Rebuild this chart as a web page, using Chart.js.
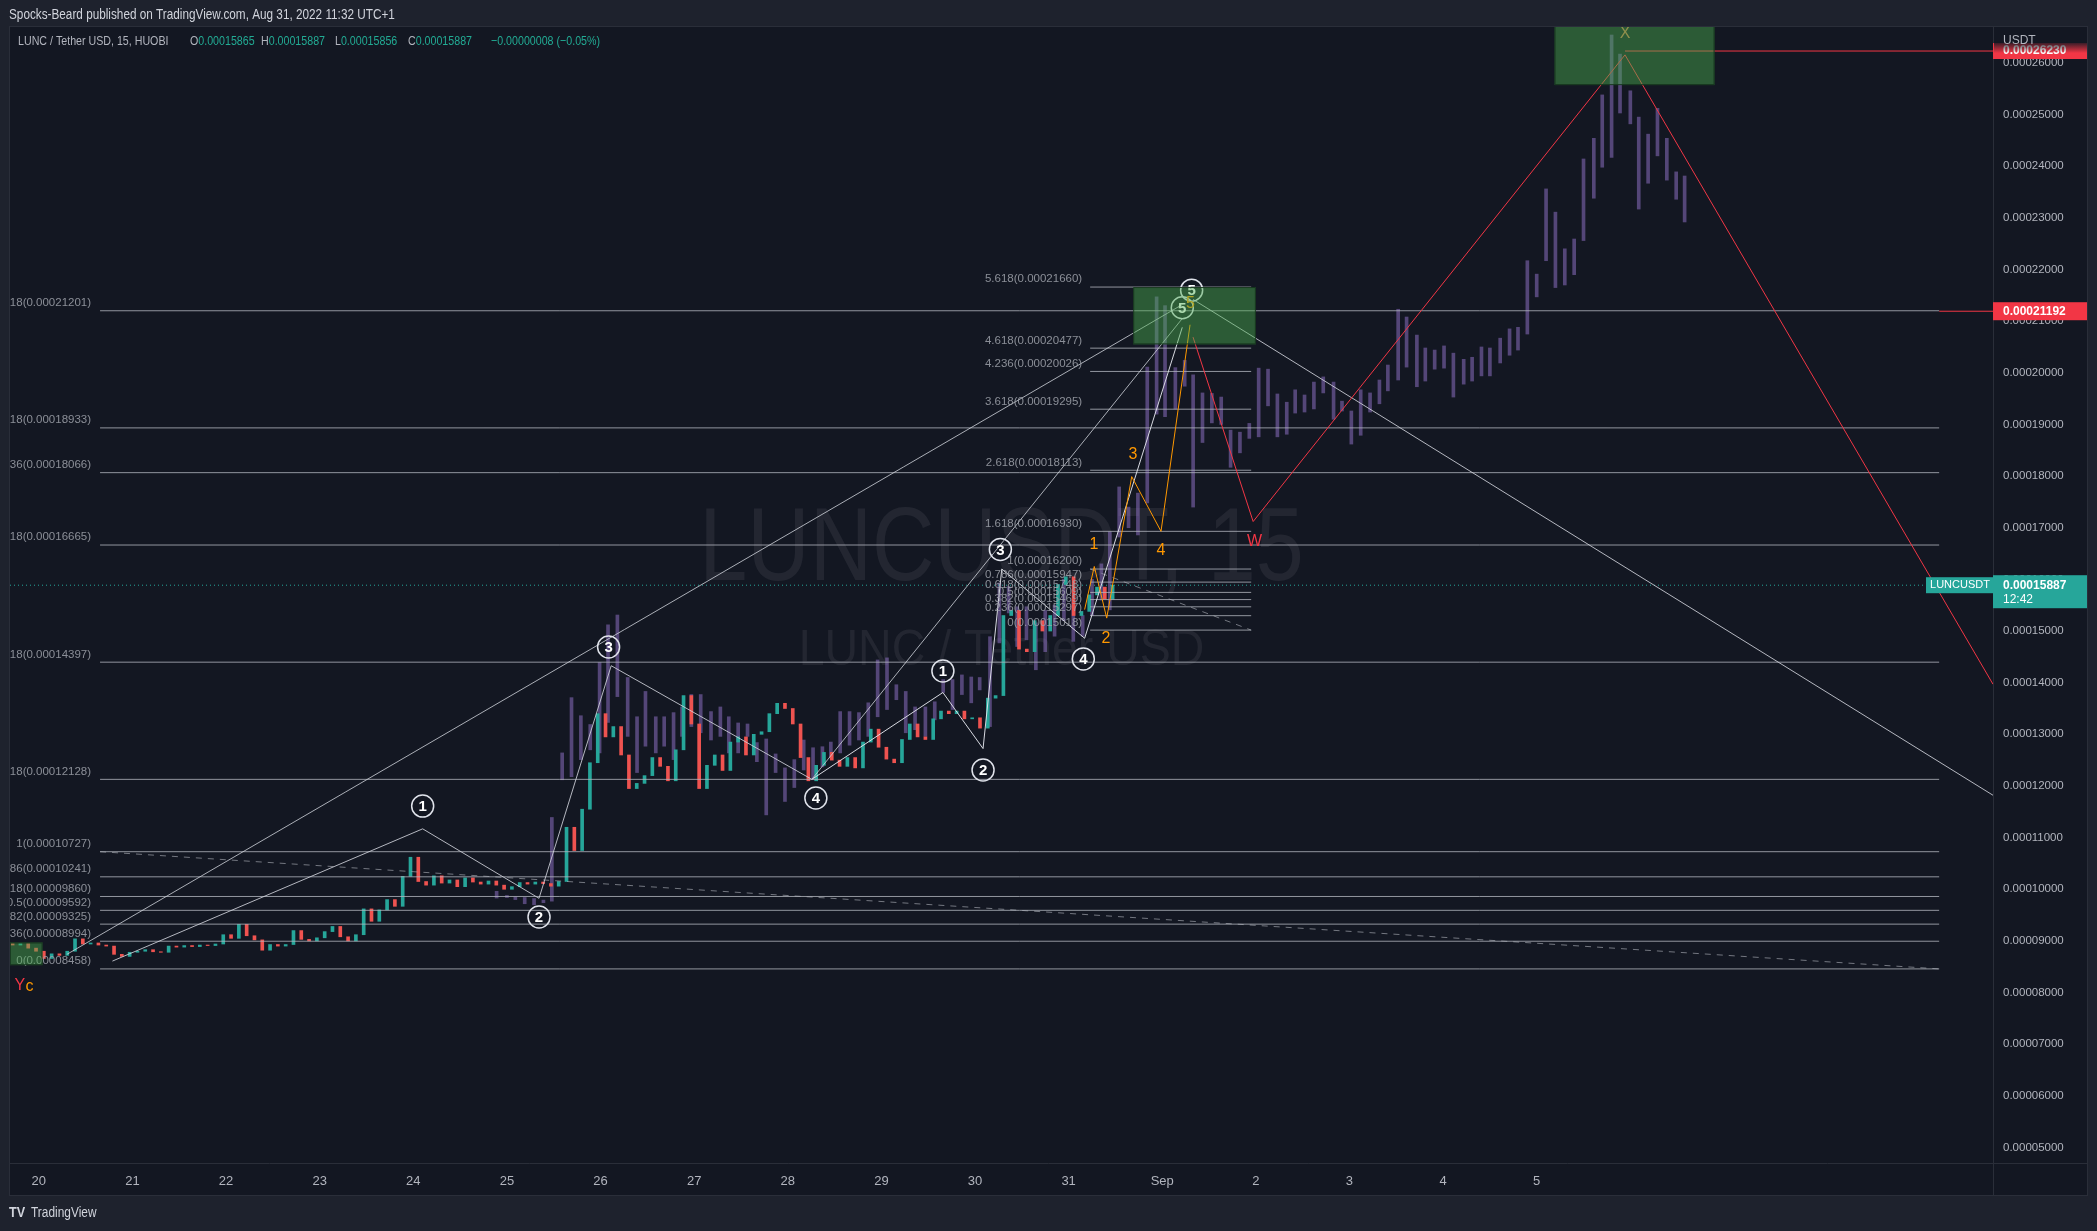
<!DOCTYPE html>
<html>
<head>
<meta charset="utf-8">
<script src="https://cdn.jsdelivr.net/npm/chart.js@4.4.1/dist/chart.umd.min.js"></script>
<style>
  html, body { margin: 0; padding: 0; background: #1e222d; overflow: hidden; }
  canvas { display: block; }
</style>
</head>
<body>
<canvas id="chart" width="2097" height="1231"></canvas>
<script>
// Prices are kept in units of 0.00001 USDT, time in days (20 = Aug 20, 32 = Sep 1)
var candleStart = 19.72;   // first 2h candle
var candleStep = 1 / 12;
var openFirst = 8.95;
var closeE5 = [
  8.92, 8.95, 8.86, 8.80, 8.66, 8.75, 8.72, 8.80, 9.04, 8.94, 8.96, 8.92,
  8.90, 8.74, 8.70, 8.78, 8.80, 8.83, 8.79, 8.78, 8.90, 8.88, 8.91, 8.89,
  8.92, 8.91, 8.94, 9.12, 9.05, 9.32, 9.10, 9.02, 8.82, 8.93, 8.90, 8.93,
  9.20, 9.03, 9.00, 9.06, 9.18, 9.28, 9.08, 9.00, 9.12, 9.62, 9.38, 9.60,
  9.80, 9.67, 10.25, 10.62, 10.15, 10.08, 10.26, 10.12, 10.18, 10.05, 10.22, 10.14,
  10.10, 10.16, 10.08, 10.00, 10.05, 10.13, 10.10, 10.14, 10.11, 10.06, 10.15, 11.20,
  10.75, 11.55, 12.45, 13.40, 12.95, 13.15, 12.60, 11.95, 12.05, 12.20, 12.55, 12.38,
  12.10, 12.70, 13.75, 13.20, 11.95, 12.40, 12.60, 12.30, 12.85, 12.95, 12.60, 13.00,
  13.05, 13.40, 13.60, 13.50, 13.20, 12.55, 12.10, 12.40, 12.65, 12.50, 12.38, 12.55,
  12.35, 12.85, 13.10, 12.75, 12.52, 12.45, 12.90, 13.20, 12.95, 12.90, 13.30, 13.45,
  13.40, 13.45, 13.30, 13.32, 13.12, 13.70, 13.75, 15.30, 15.40, 14.65, 14.60, 15.20,
  15.00, 15.30, 15.90, 16.05, 15.30, 15.38, 15.70, 15.85, 15.62, 15.887
];

// purple projected bars (bars pattern)
var ghostDay = [
  24.89, 25.00, 25.09, 25.19, 25.29, 25.39, 25.48, 25.59, 25.69, 25.79, 25.89, 25.99,
  26.08, 26.18, 26.29, 26.39, 26.48, 26.59, 26.68, 26.78, 26.87, 26.97, 27.07, 27.18,
  27.28, 27.37, 27.47, 27.57, 27.67, 27.77, 27.87, 27.97, 28.07, 28.17, 28.27, 28.37,
  28.46, 28.56, 28.66, 28.76, 28.86, 28.96, 29.06, 29.16, 29.26, 29.36, 29.47, 29.57,
  29.66, 29.76, 29.86, 29.96, 30.05, 30.16, 30.26, 30.36, 30.45, 30.55, 30.65, 30.75,
  30.85, 30.95, 31.05, 31.15, 31.25, 31.35, 31.44, 31.54, 31.64, 31.74, 31.84, 31.94,
  32.03, 32.14, 32.24, 32.33, 32.43, 32.53, 32.63, 32.73, 32.83, 32.93, 33.03, 33.13,
  33.23, 33.33, 33.42, 33.52, 33.62, 33.72, 33.83, 33.92, 34.02, 34.12, 34.22, 34.32,
  34.41, 34.52, 34.61, 34.72, 34.81, 34.91, 35.01, 35.11, 35.22, 35.31, 35.41, 35.50,
  35.61, 35.71, 35.80, 35.90, 36.00, 36.10, 36.20, 36.30, 36.40, 36.50, 36.61, 36.70,
  36.80, 36.89, 37.00, 37.09, 37.19, 37.29, 37.39, 37.49, 37.58
];
var ghostHigh = [
  9.96, 9.88, 9.85, 9.84, 9.82, 9.79, 11.39, 12.64, 13.71, 13.36, 13.19, 14.39,
  15.12, 15.31, 14.10, 13.34, 13.83, 13.34, 13.34, 13.42, 13.53, 13.77, 13.77, 13.44,
  13.53, 13.34, 13.22, 13.20, 12.84, 12.91, 12.62, 12.35, 12.51, 12.89, 12.74, 12.76,
  12.85, 13.44, 13.44, 13.42, 13.61, 14.44, 14.48, 13.96, 13.83, 13.53, 13.53, 13.63,
  14.06, 14.06, 14.15, 14.11, 14.10, 14.89, 15.93, 15.86, 15.47, 15.47, 15.16, 15.40,
  15.50, 16.00, 15.60, 15.30, 16.00, 16.30, 16.92, 17.79, 17.40, 17.67, 20.11, 21.47,
  21.30, 20.10, 20.24, 19.96, 19.61, 19.60, 19.53, 18.89, 18.85, 19.02, 20.09, 20.07,
  19.59, 19.43, 19.67, 19.57, 19.82, 19.92, 19.82, 19.45, 19.26, 19.67, 19.61, 19.86,
  20.15, 21.23, 21.08, 20.73, 20.48, 20.44, 20.52, 20.38, 20.26, 20.30, 20.50, 20.48,
  20.67, 20.85, 20.88, 22.17, 21.91, 23.56, 23.11, 22.40, 22.59, 24.14, 24.54, 25.38,
  26.54, 26.17, 25.46, 24.95, 24.62, 25.12, 24.54, 23.89, 23.81
];
var ghostLow = [
  9.83, 9.84, 9.80, 9.72, 9.70, 9.74, 9.77, 12.12, 12.18, 12.51, 12.70, 12.64,
  13.23, 13.73, 12.96, 12.26, 12.77, 12.64, 12.77, 12.51, 12.96, 13.15, 13.03, 12.89,
  12.96, 12.64, 12.64, 12.96, 12.47, 11.44, 12.26, 11.70, 11.97, 12.31, 12.12, 12.37,
  12.55, 12.64, 12.79, 12.89, 12.96, 13.34, 13.48, 13.67, 13.03, 13.09, 12.96, 13.28,
  13.81, 13.48, 13.77, 13.61, 13.86, 13.15, 14.77, 15.35, 14.70, 14.83, 14.25, 14.60,
  14.90, 15.20, 14.80, 14.90, 15.30, 15.60, 15.41, 16.82, 17.00, 16.86, 17.48, 19.20,
  19.15, 19.30, 19.74, 17.40, 18.65, 19.03, 19.00, 18.17, 18.45, 18.73, 18.76, 19.36,
  18.76, 18.81, 19.22, 19.24, 19.30, 19.61, 19.10, 19.26, 18.62, 18.79, 19.24, 19.40,
  19.65, 19.86, 20.11, 19.73, 19.84, 20.07, 20.09, 19.53, 19.78, 19.84, 19.94, 19.94,
  20.19, 20.34, 20.44, 20.75, 21.47, 22.17, 21.65, 21.70, 21.90, 22.56, 23.38, 23.98,
  24.17, 25.03, 24.82, 23.17, 23.67, 24.20, 23.73, 23.36, 22.92
];

// fib extension levels
var fibRatio = ['0', '0.236', '0.382', '0.5', '0.618', '0.786', '1', '1.618', '2.618', '3.618', '4.236', '4.618', '5.618'];
var fibAVals = [8.458, 8.994, 9.325, 9.592, 9.860, 10.241, 10.727, 12.128, 14.397, 16.665, 18.066, 18.933, 21.201];
var fibADays = [20.654, 40.299];
var fibBVals = [15.018, 15.297, 15.469, 15.609, 15.748, 15.947, 16.200, 16.930, 18.113, 19.295, 20.026, 20.477, 21.660];
var fibBDays = [31.23, 32.95];

// drawn lines
var waveBigDays = [20.786, 24.1, 25.343, 26.114, 28.257];
var waveBigVals = [8.609, 11.17, 9.825, 14.328, 12.128];
var waveSmallDays = [28.257, 29.657, 30.086, 30.286, 31.171, 32.214];
var waveSmallVals = [12.128, 13.81, 12.724, 16.2, 14.86, 20.88];
var wave45Days = [28.257, 32.214];
var wave45Vals = [12.128, 21.05];
var longDays = [20.3, 32.214];
var longVals = [8.74, 21.32];
var downDays = [32.329, 40.874];
var downVals = [21.42, 11.82];
var orangeDays = [31.171, 31.274, 31.407, 31.674, 31.987, 32.297];
var orangeVals = [15.415, 16.25, 15.25, 17.99, 16.93, 20.93];
var redDays = [32.329, 32.971, 36.943, 40.874];
var redVals = [20.69, 17.12, 26.155, 13.97];
var highLine = 26.23;
var redRay = 21.192;
var lastPrice = 15.887;

// labels
var circleText = ['1', '2', '3', '4', '5', '1', '2', '3', '4', '5'];
var circleDays = [24.1, 25.343, 26.086, 28.3, 32.314, 29.657, 30.086, 30.271, 31.157, 32.214];
var circleVals = [11.61, 9.463, 14.69, 11.766, 21.6, 14.225, 12.31, 16.58, 14.46, 21.26];
var orangeText = ['1', '2', '3', '4', '5'];
var orangeLblDays = [31.271, 31.4, 31.686, 31.986, 32.3];
var orangeLblVals = [16.68, 14.85, 18.42, 16.55, 21.34];

// green zones
var boxDay0 = [19.69, 31.69, 36.19];
var boxDay1 = [20.04, 33.0, 37.90];
var boxLow = [8.53, 20.55, 25.57];
var boxHigh = [8.97, 21.66, 26.75];

var dayTicks = [20, 21, 22, 23, 24, 25, 26, 27, 28, 29, 30, 31, 32, 33, 34, 35, 36];
var dayLabels = ['20', '21', '22', '23', '24', '25', '26', '27', '28', '29', '30', '31', 'Sep', '2', '3', '4', '5'];
var priceTicks = [5, 6, 7, 8, 9, 10, 11, 12, 13, 14, 15, 16, 17, 18, 19, 20, 21, 22, 23, 24, 25, 26];

var FONT = '"Liberation Sans", Arial, sans-serif';
var TEAL = '#26a69a', RED = '#ef5350', LINE_RED = '#f23645', ORANGE = '#ff9800';

function P(v) { return v * 1e-5; }

// candle bodies
var candleData = [], candleColors = [];
var prev = openFirst;
closeE5.forEach(function (c, i) {
  candleData.push({ x: candleStart + i * candleStep, y: [P(prev), P(c)] });
  candleColors.push(c >= prev ? TEAL : RED);
  prev = c;
});

var ghostData = ghostDay.map(function (d, i) {
  return { x: d, y: [P(ghostLow[i]), P(ghostHigh[i])] };
});

function path(days, vals) {
  return days.map(function (d, i) { return { x: d, y: P(vals[i]) }; });
}
function lineSet(data, color, width, dash, order) {
  return {
    type: 'line', data: data, borderColor: color, borderWidth: width,
    borderDash: dash || [], pointRadius: 0, fill: false, tension: 0, order: order
  };
}

var datasets = [];
fibAVals.forEach(function (v) {
  datasets.push(lineSet(path(fibADays, [v, v]), 'rgba(178,181,190,0.8)', 1, null, 5));
});
fibBVals.forEach(function (v) {
  datasets.push(lineSet(path(fibBDays, [v, v]), 'rgba(178,181,190,0.8)', 1, null, 5));
});
datasets.push(lineSet(path(fibADays, [fibAVals[6], fibAVals[0]]), 'rgba(178,181,190,0.6)', 1, [6, 6], 5));
datasets.push(lineSet(path(fibBDays, [fibBVals[6], fibBVals[0]]), 'rgba(178,181,190,0.6)', 1, [6, 6], 5));
datasets.push(lineSet(path([19.692, 40.874], [lastPrice, lastPrice]), TEAL, 1, [1, 3], 4));
datasets.push(lineSet(path([40.3, 40.874], [redRay, redRay]), LINE_RED, 1, null, 4));
datasets.push(lineSet(path([36.943, 40.874], [highLine, highLine]), LINE_RED, 1, null, 4));
datasets.push(lineSet(path(longDays, longVals), 'rgba(209,212,220,0.8)', 1, null, 3));
datasets.push(lineSet(path(waveBigDays, waveBigVals), 'rgba(209,212,220,0.85)', 1, null, 3));
datasets.push(lineSet(path(wave45Days, wave45Vals), 'rgba(209,212,220,0.8)', 1, null, 3));
datasets.push(lineSet(path(waveSmallDays, waveSmallVals), 'rgba(225,228,235,0.95)', 1, null, 3));
datasets.push(lineSet(path(downDays, downVals), 'rgba(209,212,220,0.85)', 1, null, 3));
datasets.push(lineSet(path(orangeDays, orangeVals), ORANGE, 1, null, 2));
datasets.push(lineSet(path(redDays, redVals), LINE_RED, 1, null, 2));
datasets.push({
  type: 'bar', data: ghostData, backgroundColor: 'rgba(149,117,205,0.5)',
  barThickness: 3, grouped: false, order: 7
});
datasets.push({
  type: 'bar', data: candleData, backgroundColor: candleColors,
  barThickness: 3, grouped: false, order: 6
});

function px(chart, d) { return chart.scales.x.getPixelForValue(d); }
function py(chart, v) { return chart.scales.y.getPixelForValue(P(v)); }

// text squeezed horizontally, to look like the condensed UI font
function narrowText(c, text, x, y, sx) {
  c.save();
  c.translate(x, y);
  c.scale(sx, 1);
  c.fillText(text, 0, 0);
  var w = c.measureText(text).width * sx;
  c.restore();
  return w;
}

var overlay = {
  id: 'overlay',
  beforeDraw: function (chart) {
    var c = chart.ctx, a = chart.chartArea;
    var R = chart.scales.y.right, B = chart.scales.x.bottom;
    c.save();
    c.fillStyle = '#1e222d';
    c.fillRect(0, 0, chart.width, chart.height);
    c.fillStyle = '#131722';
    c.fillRect(a.left, a.top, R - a.left, B - a.top);
    c.strokeStyle = '#2a2e39';
    c.lineWidth = 1;
    c.strokeRect(a.left - 0.5, a.top - 0.5, R - a.left + 1, B - a.top + 1);
    c.beginPath();
    c.moveTo(a.right + 0.5, a.top); c.lineTo(a.right + 0.5, B);
    c.moveTo(a.left, a.bottom + 0.5); c.lineTo(R, a.bottom + 0.5);
    c.stroke();
    c.fillStyle = '#d1d4dc';
    c.font = '14px ' + FONT;
    c.textBaseline = 'middle';
    narrowText(c, 'Spocks-Beard published on TradingView.com, Aug 31, 2022 11:32 UTC+1', 9, 15, 0.84);
    c.restore();
  },
  beforeDatasetsDraw: function (chart) {
    var c = chart.ctx, a = chart.chartArea;
    var cx = (a.left + a.right) / 2, cy = (a.top + a.bottom) / 2;
    c.save();
    c.fillStyle = 'rgba(178,181,190,0.1)';
    c.textAlign = 'center';
    c.textBaseline = 'middle';
    c.font = '104px ' + FONT;
    narrowText(c, 'LUNCUSDT, 15', cx, cy - 44, 0.83);
    c.font = '50px ' + FONT;
    narrowText(c, 'LUNC / Tether USD', cx, cy + 56, 0.93);
    c.restore();
  },
  afterDatasetsDraw: function (chart) {
    var c = chart.ctx, a = chart.chartArea;
    c.save();
    c.beginPath();
    c.rect(a.left, a.top, a.right - a.left, a.bottom - a.top);
    c.clip();

    // fib labels
    c.font = '11.5px ' + FONT;
    c.fillStyle = 'rgba(160,163,172,0.85)';
    c.textAlign = 'right';
    c.textBaseline = 'bottom';
    fibAVals.forEach(function (v, i) {
      c.fillText(fibRatio[i] + '(' + P(v).toFixed(8) + ')', px(chart, fibADays[0]) - 9, py(chart, v) - 2);
    });
    fibBVals.forEach(function (v, i) {
      c.fillText(fibRatio[i] + '(' + P(v).toFixed(8) + ')', px(chart, fibBDays[0]) - 8, py(chart, v) - 2);
    });

    // circled wave counts
    c.textAlign = 'center';
    c.textBaseline = 'middle';
    circleText.forEach(function (t, i) {
      var x = px(chart, circleDays[i]), y = py(chart, circleVals[i]);
      c.beginPath();
      c.arc(x, y, 11, 0, Math.PI * 2);
      c.strokeStyle = '#e0e3eb';
      c.lineWidth = 1.5;
      c.stroke();
      c.fillStyle = '#ffffff';
      c.font = 'bold 15px ' + FONT;
      c.fillText(t, x, y + 1);
    });

    c.font = '16px ' + FONT;
    c.fillStyle = ORANGE;
    orangeText.forEach(function (t, i) {
      c.fillText(t, px(chart, orangeLblDays[i]), py(chart, orangeLblVals[i]));
    });
    c.fillStyle = LINE_RED;
    c.fillText('W', px(chart, 32.986), py(chart, 16.73));
    c.fillStyle = '#c8764a';
    c.fillText('X', px(chart, 36.943), py(chart, 26.57));
    c.textAlign = 'left';
    c.fillStyle = LINE_RED;
    c.fillText('Y', px(chart, 19.74), py(chart, 8.14));
    c.fillStyle = ORANGE;
    c.fillText('c', px(chart, 19.74) + 11, py(chart, 8.14) + 1);

    // green zones
    boxDay0.forEach(function (d, i) {
      var x0 = px(chart, d), x1 = px(chart, boxDay1[i]);
      var y0 = py(chart, boxHigh[i]), y1 = py(chart, boxLow[i]);
      c.fillStyle = 'rgba(76,175,80,0.45)';
      c.fillRect(x0, y0, x1 - x0, y1 - y0);
      c.strokeStyle = 'rgba(20,50,28,0.9)';
      c.lineWidth = 1;
      c.strokeRect(x0 + 0.5, y0 + 0.5, x1 - x0 - 1, y1 - y0 - 1);
    });
    c.restore();
  },
  afterDraw: function (chart) {
    var c = chart.ctx, a = chart.chartArea;
    var R = chart.scales.y.right;
    c.save();

    // legend line
    c.font = '13px ' + FONT;
    c.textBaseline = 'middle';
    var grey = '#b2b5be', green = '#22ab94';
    c.fillStyle = grey;
    narrowText(c, 'LUNC / Tether USD, 15, HUOBI', 18, 41, 0.82);
    [['O', '0.00015865', 190], ['H', '0.00015887', 261], ['L', '0.00015856', 335], ['C', '0.00015887', 408]].forEach(function (p) {
      c.fillStyle = grey;
      var w = narrowText(c, p[0], p[2], 41, 0.82);
      c.fillStyle = green;
      narrowText(c, p[1], p[2] + w, 41, 0.82);
    });
    c.fillStyle = green;
    narrowText(c, '\u22120.00000008 (\u22120.05%)', 491, 41, 0.82);

    // in-chart symbol label
    var yl = py(chart, lastPrice);
    c.fillStyle = TEAL;
    c.fillRect(a.right - 67, yl - 8, 67, 16);
    c.fillStyle = '#ffffff';
    c.font = '11px ' + FONT;
    c.textAlign = 'center';
    c.fillText('LUNCUSDT', a.right - 33, yl);

    // price axis labels
    c.font = 'bold 12px ' + FONT;
    c.textAlign = 'left';
    var yh = py(chart, highLine);
    c.fillStyle = LINE_RED;
    c.fillRect(a.right, yh - 8, R - a.right, 16);
    c.fillStyle = '#ffffff';
    c.fillText(P(highLine).toFixed(8), a.right + 10, yh);
    var fade = c.createLinearGradient(0, a.top, 0, yh + 2);
    fade.addColorStop(0, 'rgba(19,23,34,1)');
    fade.addColorStop(0.6, 'rgba(19,23,34,0.85)');
    fade.addColorStop(1, 'rgba(19,23,34,0)');
    c.fillStyle = fade;
    c.fillRect(a.right + 1, a.top, R - a.right - 1, yh + 2 - a.top);
    c.fillStyle = grey;
    c.font = '12px ' + FONT;
    c.fillText('USDT', a.right + 10, a.top + 14);

    c.font = 'bold 12px ' + FONT;
    var yr = py(chart, redRay);
    c.fillStyle = LINE_RED;
    c.fillRect(a.right, yr - 9, R - a.right, 18);
    c.fillStyle = '#ffffff';
    c.fillText(P(redRay).toFixed(8), a.right + 10, yr);

    c.fillStyle = TEAL;
    c.fillRect(a.right, yl - 10, R - a.right, 33);
    c.fillStyle = '#ffffff';
    c.fillText(P(lastPrice).toFixed(8), a.right + 10, yl);
    c.font = '12px ' + FONT;
    c.fillText('12:42', a.right + 10, yl + 14);

    // logo
    c.fillStyle = '#d1d4dc';
    c.font = 'bold 14px ' + FONT;
    narrowText(c, 'TV', 9, 1213, 0.9);
    c.font = '14px ' + FONT;
    narrowText(c, 'TradingView', 31, 1213, 0.85);
    c.restore();
  }
};

new Chart(document.getElementById('chart'), {
  type: 'bar',
  data: { datasets: datasets },
  options: {
    responsive: false,
    animation: false,
    devicePixelRatio: 1,
    events: [],
    layout: { padding: { left: 10, top: 27, right: 10, bottom: 36 } },
    plugins: { legend: { display: false }, tooltip: { enabled: false } },
    scales: {
      x: {
        type: 'linear', min: 19.692, max: 40.874, offset: false,
        grid: { display: false, drawTicks: false },
        border: { display: false },
        afterBuildTicks: function (s) { s.ticks = dayTicks.map(function (v) { return { value: v }; }); },
        afterFit: function (s) { s.height = 32; },
        ticks: {
          autoSkip: false, maxRotation: 0, padding: 11, color: '#b2b5be',
          font: { family: FONT, size: 13 },
          callback: function (v) { return dayLabels[dayTicks.indexOf(v)]; }
        }
      },
      y: {
        type: 'linear', position: 'right', min: P(4.70), max: P(26.695),
        grid: { display: false, drawTicks: false },
        border: { display: false },
        afterBuildTicks: function (s) { s.ticks = priceTicks.map(function (v) { return { value: P(v) }; }); },
        afterFit: function (s) { s.width = 94; },
        ticks: {
          padding: 10, color: '#b2b5be',
          font: { family: FONT, size: 11.5 },
          callback: function (v) { return Number(v).toFixed(8); }
        }
      }
    }
  },
  plugins: [overlay]
});
</script>
</body>
</html>
